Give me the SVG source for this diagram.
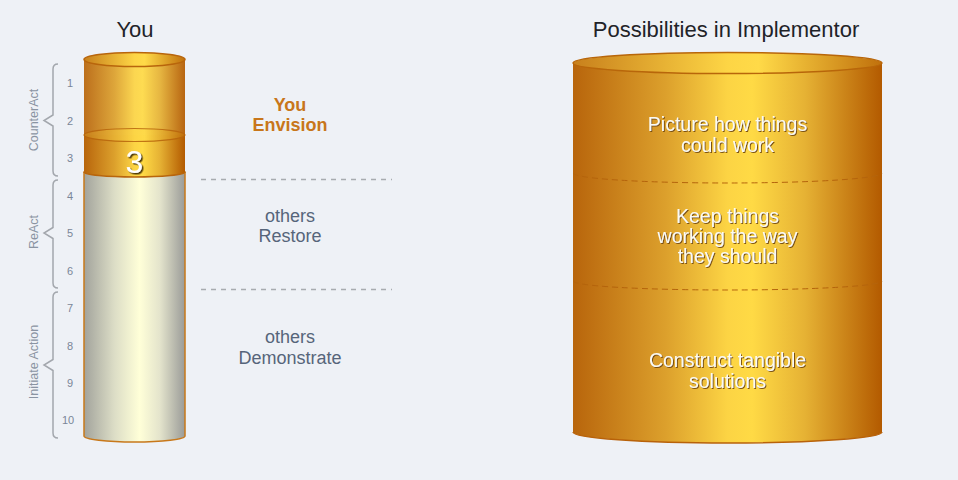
<svg xmlns="http://www.w3.org/2000/svg" width="958" height="480" viewBox="0 0 958 480">
<defs>
<linearGradient id="gold" x1="0" y1="0" x2="1" y2="0">
<stop offset="0" stop-color="#b8650c"/>
<stop offset="0.3" stop-color="#dca02c"/>
<stop offset="0.5" stop-color="#fcd444"/>
<stop offset="0.58" stop-color="#ffda45"/>
<stop offset="0.75" stop-color="#e6b234"/>
<stop offset="1" stop-color="#b35a00"/>
</linearGradient>
<linearGradient id="goldTop" x1="0" y1="0" x2="1" y2="0">
<stop offset="0" stop-color="#c8801c"/>
<stop offset="0.5" stop-color="#fdd545"/>
<stop offset="0.6" stop-color="#ffda48"/>
<stop offset="1" stop-color="#c0700c"/>
</linearGradient>
<linearGradient id="gray" x1="0" y1="0" x2="1" y2="0">
<stop offset="0" stop-color="#a2a39c"/>
<stop offset="0.3" stop-color="#dcddc6"/>
<stop offset="0.55" stop-color="#ffffd8"/>
<stop offset="0.75" stop-color="#e4e4cc"/>
<stop offset="1" stop-color="#9a9b98"/>
</linearGradient>
<filter id="shadow" x="-10%" y="-20%" width="120%" height="150%">
<feDropShadow dx="1" dy="1" stdDeviation="0.4" flood-color="#6e4608" flood-opacity="0.9"/>
</filter>
<filter id="shadow3" x="-20%" y="-20%" width="150%" height="150%">
<feDropShadow dx="1.5" dy="1.5" stdDeviation="0.6" flood-color="#3a2a00" flood-opacity="0.9"/>
</filter>
<style>
.title{font-family:"Liberation Sans",Arial,sans-serif;font-size:22px;fill:#1f2328;text-anchor:middle}
.num{font-family:"Liberation Sans",Arial,sans-serif;font-size:11px;fill:#7a8698;text-anchor:middle}
.grp{font-family:"Liberation Sans",Arial,sans-serif;font-size:12.5px;fill:#8a94a2;text-anchor:middle}
.brace{fill:none;stroke:#a3a7ad;stroke-width:1.5}
.side{font-family:"Liberation Sans",Arial,sans-serif;font-size:18px;fill:#56657a;text-anchor:middle}
.sideB{font-family:"Liberation Sans",Arial,sans-serif;font-size:18px;font-weight:bold;fill:#c8761a;text-anchor:middle}
.dash{stroke:#a8acb0;stroke-width:1.5;stroke-dasharray:5 5;fill:none}
.cyl{font-family:"Liberation Sans",Arial,sans-serif;font-size:19.5px;fill:#fbfaf4;text-anchor:middle;filter:url(#shadow)}
.arc{fill:none;stroke:#b5640c;stroke-width:1;stroke-dasharray:6 4}
</style>
</defs>
<rect width="958" height="480" fill="#eef1f6"/>

<g id="title-you"><text class="title" x="135" y="37">You</text></g>
<g id="title-possibilities"><text class="title" x="726" y="37">Possibilities in Implementor</text></g>

<g id="levels">
<text class="num" x="70" y="87">1</text>
<text class="num" x="70" y="124.5">2</text>
<text class="num" x="70" y="162">3</text>
<text class="num" x="70" y="199.5">4</text>
<text class="num" x="70" y="237">5</text>
<text class="num" x="70" y="274.5">6</text>
<text class="num" x="70" y="312">7</text>
<text class="num" x="70" y="349.5">8</text>
<text class="num" x="70" y="387">9</text>
<text class="num" x="68" y="424">10</text>
</g>

<g id="brace-counteract">
<path class="brace" d="M58,64 Q53,64 53,69 L53,115 L44,120.5 L53,126 L53,171 Q53,176 58,176"/>
<text class="grp" transform="translate(38,120) rotate(-90)">CounterAct</text>
</g>
<g id="brace-react">
<path class="brace" d="M58,180 Q53,180 53,185 L53,227.5 L44,233 L53,238.5 L53,283 Q53,288 58,288"/>
<text class="grp" transform="translate(38,232) rotate(-90)">ReAct</text>
</g>
<g id="brace-initiate">
<path class="brace" d="M58,292 Q53,292 53,297 L53,359.5 L44,365 L53,370.5 L53,433 Q53,438 58,438"/>
<text class="grp" transform="translate(38,362) rotate(-90)">Initiate Action</text>
</g>

<g id="you-cylinder">
<path d="M84,172 L84,436 A50.5,6 0 0 0 185,436 L185,172 Z" fill="url(#gray)" stroke="#c8781a" stroke-width="1.5"/>
<path d="M84,59.5 L84,135 A50.5,6.5 0 0 0 185,135 L185,59.5 Z" fill="url(#gold)" opacity="0.93"/>
<path d="M84,135 L84,172 A50.5,5 0 0 0 185,172 L185,135 Z" fill="url(#gold)"/>
<path d="M84,172 A50.5,5 0 0 0 185,172" fill="none" stroke="#b8650c" stroke-width="1.5"/>
<ellipse cx="134.5" cy="135" rx="50.5" ry="6.5" fill="url(#goldTop)" stroke="#b8650c" stroke-width="1.2" opacity="0.85"/>
<ellipse cx="134.5" cy="59.5" rx="50.5" ry="7" fill="url(#goldTop)" stroke="#b8650c" stroke-width="1.5"/>
<text x="134.5" y="172.5" font-family="'Liberation Sans',Arial,sans-serif" font-size="32" fill="#ffffff" text-anchor="middle" filter="url(#shadow3)">3</text>
</g>

<g id="connectors">
<line class="dash" x1="201" y1="179.5" x2="392" y2="179.5"/>
<line class="dash" x1="201" y1="289.5" x2="392" y2="289.5"/>
</g>

<g id="you-envision">
<text class="sideB" x="290" y="110.5">You</text>
<text class="sideB" x="290" y="130.5">Envision</text>
</g>
<g id="others-restore">
<text class="side" x="290" y="221.5">others</text>
<text class="side" x="290" y="241.5">Restore</text>
</g>
<g id="others-demonstrate">
<text class="side" x="290" y="343">others</text>
<text class="side" x="290" y="364">Demonstrate</text>
</g>

<g id="implementor-cylinder">
<path d="M573,63 L573,432 A154.5,11 0 0 0 882,432 L882,63 Z" fill="url(#gold)"/>
<path d="M573,432 A154.5,11 0 0 0 882,432" fill="none" stroke="#b8620a" stroke-width="1.5"/>
<ellipse cx="727.5" cy="63" rx="154.5" ry="10.5" fill="url(#goldTop)" stroke="#b8660a" stroke-width="1.5"/>
<path class="arc" d="M573,173 A154.5,10 0 0 0 882,173"/>
<path class="arc" d="M573,281 A154.5,9 0 0 0 882,281"/>
<g id="sec-picture">
<text class="cyl" x="727.5" y="131">Picture how things</text>
<text class="cyl" x="727.5" y="152">could work</text>
</g>
<g id="sec-keep">
<text class="cyl" x="727.5" y="223">Keep things</text>
<text class="cyl" x="727.5" y="243">working the way</text>
<text class="cyl" x="727.5" y="263">they should</text>
</g>
<g id="sec-construct">
<text class="cyl" x="727.5" y="367">Construct tangible</text>
<text class="cyl" x="727.5" y="388">solutions</text>
</g>
</g>
</svg>
